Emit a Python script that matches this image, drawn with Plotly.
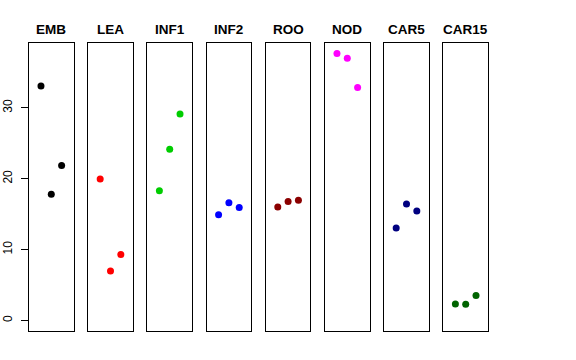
import plotly.graph_objects as go

panels = ["EMB", "LEA", "INF1", "INF2", "ROO", "NOD", "CAR5", "CAR15"]
colors = ["#000000", "#FF0000", "#00CD00", "#0000FF", "#8B0000", "#FF00FF", "#000080", "#006400"]
x_pos = [1, 2, 3]
values = {
    "EMB": [33.1, 17.8, 21.85],
    "LEA": [19.97, 6.98, 9.28],
    "INF1": [18.3, 24.15, 29.15],
    "INF2": [14.9, 16.6, 15.95],
    "ROO": [16.0, 16.77, 16.95],
    "NOD": [37.7, 37.0, 32.87],
    "CAR5": [13.05, 16.44, 15.45],
    "CAR15": [2.31, 2.26, 3.49],
}
y_ticks = [0, 10, 20, 30]

W, H = 576, 360
left0 = 29.0
panel_w = 44.6
step = 59.2
top_px, bot_px = 42.7, 331.0

ymax = max(max(v) for v in values.values())
ymin = 0.0
pad = (ymax - ymin) * 0.04
yr = [ymin - pad, ymax + pad]
xr = [0 - 0.16, 4 + 0.16]

fig = go.Figure()
layout = {}
annotations = []
for i, name in enumerate(panels):
    ax = "" if i == 0 else str(i + 1)
    x0 = left0 + i * step
    x1 = x0 + panel_w
    fig.add_trace(go.Scatter(
        x=x_pos, y=values[name], mode="markers",
        marker=dict(color=colors[i], size=7, line=dict(width=0)),
        xaxis="x" + ax, yaxis="y" + ax, showlegend=False, hoverinfo="y",
    ))
    layout["xaxis" + ax] = dict(
        domain=[x0 / W, x1 / W], range=xr, showgrid=False, zeroline=False,
        showticklabels=False, ticks="", showline=True, mirror=True,
        linecolor="black", linewidth=1, anchor="y" + ax, fixedrange=True,
        automargin=False,
    )
    yd = dict(
        domain=[(H - bot_px) / H, (H - top_px) / H], range=yr, showgrid=False,
        zeroline=False, showline=True, mirror=True, linecolor="black",
        linewidth=1, anchor="x" + ax, fixedrange=True, automargin=False,
    )
    if i == 0:
        yd.update(tickvals=y_ticks, ticktext=[str(t) for t in y_ticks],
                  ticks="outside", ticklen=7, tickcolor="black", tickwidth=1,
                  tickangle=-90, ticklabelstandoff=4,
                  tickfont=dict(family="Liberation Sans, Arial, sans-serif", size=12, color="black"))
    else:
        yd.update(showticklabels=False, ticks="")
    layout["yaxis" + ax] = yd
    annotations.append(dict(
        text="<b>" + name + "</b>", x=(x0 + x1) / 2 / W, y=(H - 29) / H,
        xref="paper", yref="paper", showarrow=False, xanchor="center", yanchor="middle",
        font=dict(family="Liberation Sans, Arial, sans-serif", size=13.5, color="black"),
    ))

fig.update_layout(
    width=W, height=H, margin=dict(l=0, r=0, t=0, b=0, autoexpand=False),
    paper_bgcolor="white", plot_bgcolor="white",
    annotations=annotations, **layout,
)
fig.write_html("out.html", config={"displayModeBar": False},
               post_script="document.body.style.margin='0';document.body.style.padding='0';")
